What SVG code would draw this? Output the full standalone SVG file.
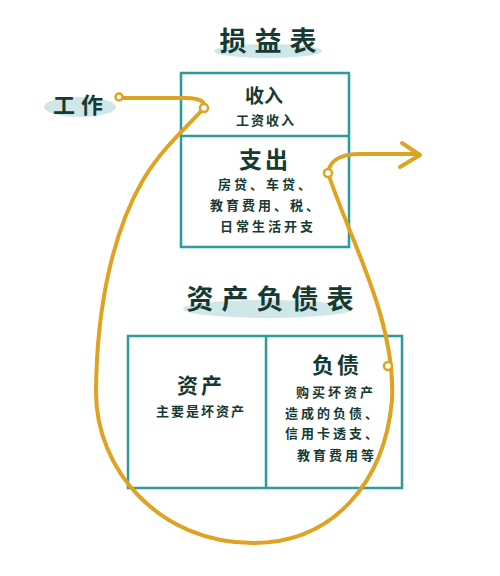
<svg xmlns="http://www.w3.org/2000/svg" width="500" height="576" viewBox="0 0 500 576">
<style>
.box{fill:none;stroke:#2a9c9c;stroke-width:2.5}
.blob{fill:#cfe7e8}
text{font-family:"Noto Sans CJK SC","Noto Sans",sans-serif;fill:#163a32;text-anchor:middle}
.title{font-size:27px;font-weight:bold}
.head{font-size:20px;font-weight:bold}
.body{font-size:13px;font-weight:bold}
.flow{fill:none;stroke:#dfa321;stroke-width:4;stroke-linecap:round;stroke-linejoin:round}
.dot{fill:#ffffff;stroke:#dfa321;stroke-width:2.5}
</style>
<rect width="500" height="576" fill="#ffffff"/>
<g id="title-income">
<ellipse class="blob" cx="268" cy="51" rx="54" ry="7"/>
<text class="title" x="272" y="51" letter-spacing="8">损益表</text>
</g>
<g id="work">
<ellipse class="blob" cx="80" cy="107" rx="36" ry="10"/>
<text x="81" y="113" style="font-size:22px;font-weight:bold" letter-spacing="6">工作</text>
</g>
<g id="income-statement">
<rect class="box" x="181" y="73" width="168" height="174"/>
<line class="box" x1="181" y1="136" x2="349" y2="136"/>
<text class="head" x="264" y="103" style="font-size:19px">收入</text>
<text class="body" x="266" y="125" letter-spacing="2">工资收入</text>
<text class="head" x="265" y="168" style="font-size:23px" letter-spacing="3">支出</text>
<text class="body" x="266" y="189" letter-spacing="3">房贷、车贷、</text>
<text class="body" x="266" y="210" letter-spacing="3">教育费用、税、</text>
<text class="body" x="268" y="231" letter-spacing="3">日常生活开支</text>
</g>
<g id="title-balance">
<ellipse class="blob" cx="268" cy="309" rx="85" ry="9"/>
<text class="title" x="274" y="309" letter-spacing="8">资产负债表</text>
</g>
<g id="balance-sheet">
<rect class="box" x="128" y="336" width="274" height="152"/>
<line class="box" x1="266" y1="336" x2="266" y2="488"/>
<text class="head" x="201" y="393" style="font-size:21px" letter-spacing="3">资产</text>
<text class="body" x="201" y="416" letter-spacing="2">主要是坏资产</text>
<text class="head" x="337" y="373" style="font-size:22px" letter-spacing="3">负债</text>
<text class="body" x="336" y="397" letter-spacing="3">购买坏资产</text>
<text class="body" x="333" y="418" letter-spacing="3">造成的负债、</text>
<text class="body" x="333" y="438" letter-spacing="3">信用卡透支、</text>
<text class="body" x="337" y="460" letter-spacing="3">教育费用等</text>
</g>
<g id="connectors">
<path class="flow" d="M123,98 L186,98 C198,98 206,101 204,108"/>
<path class="flow" d="M204,108 C188,126 162,148 143,180 C115,228 97,300 96,390 C95,470 160,543 253,543 C335,543 385,480 392,400 C396,320 350,240 328,173 C330,160 340,154 360,154 L416,154"/>
<path class="flow" d="M402,143 L420,155 L400,167"/>
<circle class="dot" cx="119" cy="97" r="3.5"/>
<circle class="dot" cx="204" cy="108" r="4"/>
<circle class="dot" cx="388" cy="366" r="4"/>
<circle class="dot" cx="328" cy="173" r="4"/>
</g>
</svg>
